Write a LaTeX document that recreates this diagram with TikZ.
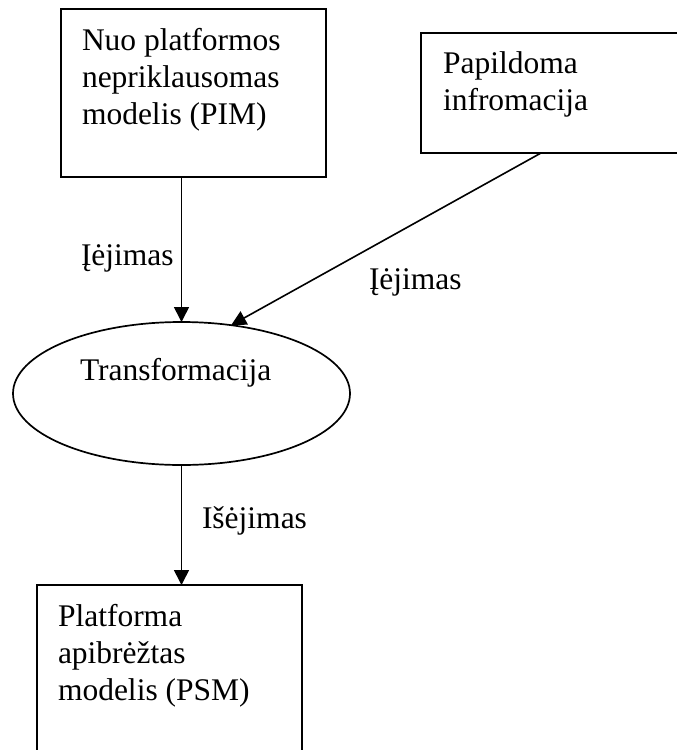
\documentclass[tikz,border=0pt]{standalone}
\usepackage{fontspec}
\setmainfont{Liberation Serif}
\usetikzlibrary{arrows.meta,shapes.geometric}

\tikzset{
  box/.style={draw, rectangle, line width=1.7pt, inner sep=0pt, outer sep=0pt},
  oval/.style={draw, ellipse, line width=1.7pt, inner sep=0pt, outer sep=0pt,
    minimum width=337pt, minimum height=143pt},
  txt/.style={font=\fontsize{31.5}{37}\selectfont, inner sep=0pt, outer sep=0pt,
    anchor=base west, align=left},
  flow/.style={line width=1.6pt, -{Triangle[length=15pt,width=15pt]}}
}

\begin{document}
\begin{tikzpicture}[x=1pt, y=-1pt]
  \clip (0,0) rectangle (677,750);

  % input models and the transformation
  \node[box, minimum width=265pt, minimum height=168pt] (pim) at (193.5,93) {};
  \node[box, minimum width=280pt, minimum height=120pt] (info) at (561,93) {};
  \node[oval] (tr) at (181.5,393.5) {};
  \node[box, minimum width=265pt, minimum height=200pt] (psm) at (169.5,685) {};

  % box texts (anchored at the baseline of their last line)
  \node[txt] (pimtext) at (82,124) {Nuo platformos\\nepriklausomas\\modelis (PIM)};
  \node[txt] (infotext) at (443,110) {Papildoma\\infromacija};
  \node[txt] (trtext) at (80,380) {Transformacija};
  \node[txt] (psmtext) at (58,700) {Platforma\\apibrėžtas\\modelis (PSM)};

  % connectors
  \draw[flow] (tr.north |- pim.south) -- (tr.north);
  \draw[flow] ([xshift=-20pt]info.south) -- (tr.54);
  \draw[flow] (tr.south) -- (tr.south |- psm.north);

  % connector labels
  \node[txt] (in1) at (81,265) {Įėjimas};
  \node[txt] (in2) at (369,289) {Įėjimas};
  \node[txt] (out) at (202,528) {Išėjimas};
\end{tikzpicture}
\end{document}
